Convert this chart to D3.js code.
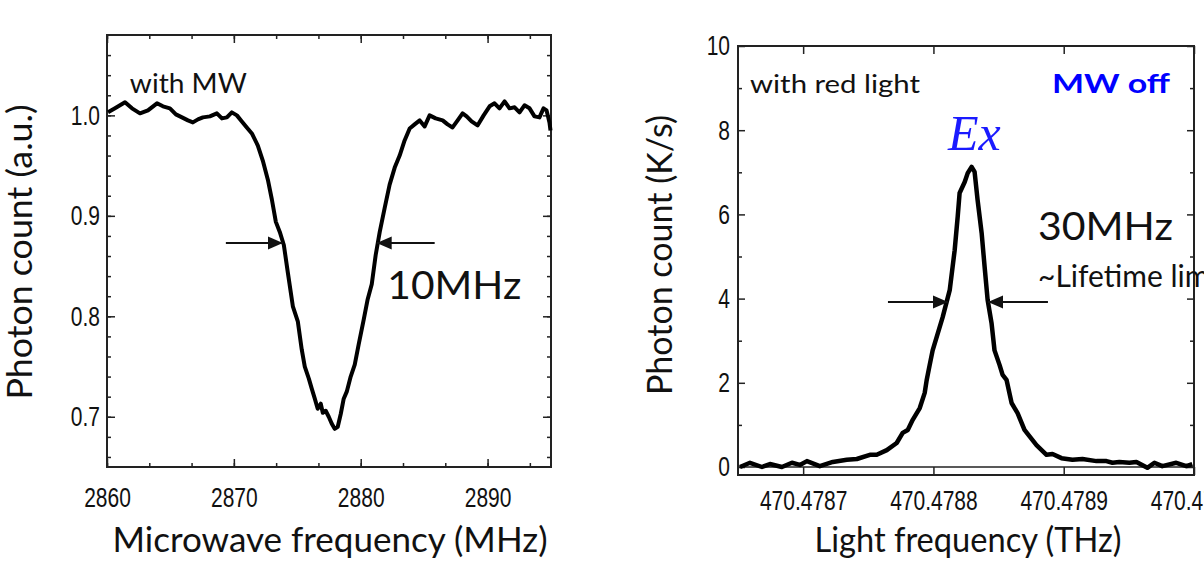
<!DOCTYPE html>
<html>
<head>
<meta charset="utf-8">
<script src="https://cdn.jsdelivr.net/npm/d3@7"></script>
<style>
body { margin: 0; background: #fff; }
svg { display: block; }
.tick text { font-family: "Liberation Sans", Arial, sans-serif; font-size: 28px; fill: #111; }
.tick line { stroke: #222; stroke-width: 1.5; }
.lbl { font-family: Lato, "Open Sans", sans-serif; fill: #111; }
</style>
</head>
<body>
<svg id="chart" width="1204" height="567"></svg>
<script>
// left panel: ODMR dip, microwave frequency (MHz) vs normalised count
var mwFreq = [2860.08, 2860.63, 2861.42, 2861.97, 2862.60, 2863.23, 2863.94, 2864.41, 2864.96, 2865.43,
  2865.91, 2866.38, 2866.77, 2867.17, 2867.56, 2868.11, 2868.66, 2869.06, 2869.45, 2869.84,
  2870.24, 2870.63, 2871.02, 2871.42, 2871.89, 2872.28, 2872.68, 2873.00, 2873.31, 2873.62,
  2873.94, 2874.25, 2874.65, 2875.04, 2875.35, 2875.59, 2875.91, 2876.14, 2876.38, 2876.61,
  2876.85, 2877.01, 2877.24, 2877.48, 2877.72, 2877.95, 2878.19, 2878.43, 2878.66, 2878.90,
  2879.21, 2879.53, 2879.84, 2880.24, 2880.55, 2880.87, 2881.18, 2881.50, 2881.89, 2882.28,
  2882.68, 2883.07, 2883.46, 2883.86, 2884.25, 2884.65, 2885.04, 2885.43, 2885.91, 2886.46,
  2886.85, 2887.24, 2887.64, 2888.03, 2888.35, 2888.74, 2889.21, 2889.69, 2890.16, 2890.55,
  2890.94, 2891.34, 2891.73, 2892.13, 2892.52, 2892.91, 2893.31, 2893.70, 2894.09, 2894.41,
  2894.65, 2894.88, 2894.96];
var mwCount = [1.003, 1.007, 1.013, 1.007, 1.002, 1.005, 1.012, 1.009, 1.007, 1.001,
  0.998, 0.995, 0.993, 0.996, 0.998, 0.999, 1.002, 0.997, 0.998, 1.003,
  1.000, 0.994, 0.988, 0.982, 0.970, 0.955, 0.936, 0.916, 0.894, 0.884,
  0.871, 0.844, 0.810, 0.795, 0.767, 0.750, 0.738, 0.728, 0.718, 0.708,
  0.713, 0.704, 0.706, 0.700, 0.693, 0.688, 0.690, 0.703, 0.718, 0.725,
  0.740, 0.752, 0.772, 0.797, 0.817, 0.832, 0.861, 0.884, 0.908, 0.931,
  0.948, 0.960, 0.975, 0.987, 0.991, 0.995, 0.989, 1.000, 0.997, 0.995,
  0.991, 0.988, 0.995, 1.002, 0.999, 0.994, 0.990, 1.000, 1.009, 1.012,
  1.007, 1.014, 1.007, 1.008, 1.003, 1.010, 1.007, 0.999, 0.998, 1.007,
  1.005, 0.993, 0.985];
var mwXTicks = [2860, 2870, 2880, 2890];
var mwYTicks = [0.7, 0.8, 0.9, 1.0];

// right panel: PLE line, light frequency (THz) vs count (K/s)
var lightFreq = [470.4786515, 470.4786592, 470.4786684, 470.4786745, 470.4786837, 470.4786914, 470.4786975,
  470.4787029, 470.4787128, 470.4787228, 470.4787335, 470.4787412, 470.4787512, 470.4787565,
  470.4787642, 470.4787718, 470.4787764, 470.4787803, 470.4787841, 470.4787895, 470.4787933,
  470.4787948, 470.4787971, 470.4787994, 470.4788071, 470.4788125, 470.4788163, 470.4788186,
  470.4788201, 470.4788240, 470.4788263, 470.4788293, 470.4788316, 470.4788339, 470.4788370,
  470.4788393, 470.4788416, 470.4788446, 470.4788469, 470.4788508, 470.4788531, 470.4788561,
  470.4788600, 470.4788646, 470.4788699, 470.4788791, 470.4788868, 470.4788914, 470.4788983,
  470.4789067, 470.4789144, 470.4789251, 470.4789328, 470.4789374, 470.4789427, 470.4789504,
  470.4789558, 470.4789642, 470.4789696, 470.4789757, 470.4789864, 470.4789941, 470.4789987];
var lightCount = [0.00, 0.10, 0.00, 0.07, 0.00, 0.10, 0.05,
  0.14, 0.02, 0.12, 0.17, 0.19, 0.29, 0.29,
  0.40, 0.57, 0.81, 0.88, 1.12, 1.40, 1.76,
  2.06, 2.42, 2.77, 3.56, 4.20, 5.15, 5.94,
  6.51, 6.77, 6.98, 7.13, 7.01, 6.34, 5.56,
  4.75, 3.97, 3.42, 2.77, 2.42, 2.19, 2.07,
  1.52, 1.28, 0.88, 0.52, 0.29, 0.31, 0.21,
  0.17, 0.19, 0.14, 0.14, 0.10, 0.12, 0.10,
  0.12, -0.02, 0.10, 0.02, 0.10, 0.02, 0.07];
var lightXTicks = [470.4787, 470.4788, 470.4789, 470.4790];
var lightYTicks = [0, 2, 4, 6, 8, 10];
var lightYMinor = [1, 3, 5, 7, 9];

var squeeze = 0.75; // tick labels use a condensed face in the original

var svg = d3.select("#chart");

svg.append("defs").append("marker")
    .attr("id", "arrowhead")
    .attr("viewBox", "0 -8 16 16")
    .attr("refX", 15)
    .attr("refY", 0)
    .attr("markerUnits", "userSpaceOnUse")
    .attr("markerWidth", 16)
    .attr("markerHeight", 16)
    .attr("orient", "auto")
    .append("path")
    .attr("d", "M0,-6.5 L15,0 L0,6.5 Z")
    .attr("fill", "#111");

function addAxis(g, axis, tx, ty) {
    var a = g.append("g")
        .attr("transform", "translate(" + tx + "," + ty + ")")
        .call(axis);
    a.select(".domain").remove();
    a.selectAll(".tick text")
        .attr("x", function () { return (+d3.select(this).attr("x") || 0) / squeeze; })
        .attr("transform", "scale(" + squeeze + ",1)");
    return a;
}

function drawArrow(g, x1, x2, y) {
    g.append("line")
        .attr("x1", x1).attr("x2", x2)
        .attr("y1", y).attr("y2", y)
        .attr("stroke", "#111")
        .attr("stroke-width", 2)
        .attr("marker-end", "url(#arrowhead)");
}

// ---------- left panel ----------
var xL = d3.scaleLinear().domain([2860, 2895]).range([107, 551]);
var yL = d3.scaleLinear().domain([0.65, 1.08]).range([467, 35]);
var gL = svg.append("g");

var mwXMinor = d3.range(0, 11).map(function (i) { return 2860 + i * 10 / 3; });
var mwYMinor = d3.range(0, 21).map(function (i) { return 0.66 + i * 0.02; });

addAxis(gL, d3.axisBottom(xL).tickValues(mwXMinor).tickSize(-4).tickFormat(""), 0, yL.range()[0]);
addAxis(gL, d3.axisBottom(xL).tickValues(mwXTicks).tickSize(-8).tickPadding(20).tickFormat(d3.format("d")), 0, yL.range()[0]);
addAxis(gL, d3.axisTop(xL).tickValues(mwXMinor).tickSize(-4).tickFormat(""), 0, yL.range()[1]);
addAxis(gL, d3.axisTop(xL).tickValues(mwXTicks).tickSize(-8).tickFormat(""), 0, yL.range()[1]);
addAxis(gL, d3.axisLeft(yL).tickValues(mwYMinor).tickSize(-4).tickFormat(""), xL.range()[0], 0);
addAxis(gL, d3.axisLeft(yL).tickValues(mwYTicks).tickSize(-8).tickPadding(7).tickFormat(d3.format(".1f")), xL.range()[0], 0);
addAxis(gL, d3.axisRight(yL).tickValues(mwYMinor).tickSize(-4).tickFormat(""), xL.range()[1], 0);
addAxis(gL, d3.axisRight(yL).tickValues(mwYTicks).tickSize(-8).tickFormat(""), xL.range()[1], 0);

gL.append("rect")
    .attr("x", xL.range()[0]).attr("y", yL.range()[1])
    .attr("width", xL.range()[1] - xL.range()[0])
    .attr("height", yL.range()[0] - yL.range()[1])
    .attr("fill", "none").attr("stroke", "#222").attr("stroke-width", 2);

gL.append("path")
    .datum(d3.zip(mwFreq, mwCount))
    .attr("fill", "none")
    .attr("stroke", "#000")
    .attr("stroke-width", 4)
    .attr("stroke-linejoin", "round")
    .attr("d", d3.line().x(function (d) { return xL(d[0]); }).y(function (d) { return yL(d[1]); }));

drawArrow(gL, xL(2869.37), xL(2873.86), yL(0.873));
drawArrow(gL, xL(2885.83), xL(2881.26), yL(0.873));

gL.append("text").attr("class", "lbl")
    .attr("x", xL(2861.8)).attr("y", yL(1.022))
    .attr("font-size", 26).attr("textLength", 117).attr("lengthAdjust", "spacingAndGlyphs")
    .text("with MW");
gL.append("text").attr("class", "lbl")
    .attr("x", xL(2882.1)).attr("y", yL(0.817))
    .attr("font-size", 39).attr("textLength", 134).attr("lengthAdjust", "spacingAndGlyphs")
    .text("10MHz");

gL.append("text").attr("class", "lbl")
    .attr("x", 330).attr("y", 552)
    .attr("text-anchor", "middle")
    .attr("font-size", 35).attr("textLength", 435).attr("lengthAdjust", "spacingAndGlyphs")
    .text("Microwave frequency (MHz)");
gL.append("text").attr("class", "lbl")
    .attr("transform", "translate(32,252) rotate(-90)")
    .attr("text-anchor", "middle")
    .attr("font-size", 35).attr("textLength", 295).attr("lengthAdjust", "spacingAndGlyphs")
    .text("Photon count (a.u.)");

// ---------- right panel ----------
var xR = d3.scaleLinear().domain([470.47865, 470.47900]).range([738, 1194]);
var yR = d3.scaleLinear().domain([-0.19, 10]).range([475, 46]);
var gR = svg.append("g");

addAxis(gR, d3.axisBottom(xR).tickValues(lightXTicks).tickSize(-(yR.range()[0] - yR(0))).tickPadding(15).tickFormat(d3.format(".4f")), 0, yR.range()[0]);
addAxis(gR, d3.axisTop(xR).tickValues(lightXTicks).tickSize(-8).tickFormat(""), 0, yR.range()[1]);
addAxis(gR, d3.axisLeft(yR).tickValues(lightYMinor).tickSize(-4).tickFormat(""), xR.range()[0], 0);
addAxis(gR, d3.axisLeft(yR).tickValues(lightYTicks).tickSize(-7).tickPadding(8).tickFormat(d3.format("d")), xR.range()[0], 0);
addAxis(gR, d3.axisRight(yR).tickValues(lightYMinor).tickSize(-4).tickFormat(""), xR.range()[1], 0);
addAxis(gR, d3.axisRight(yR).tickValues(lightYTicks).tickSize(-7).tickFormat(""), xR.range()[1], 0);

gR.append("line")
    .attr("x1", xR.range()[0]).attr("x2", xR.range()[1])
    .attr("y1", yR(0)).attr("y2", yR(0))
    .attr("stroke", "#222").attr("stroke-width", 1.5);

gR.append("rect")
    .attr("x", xR.range()[0]).attr("y", yR.range()[1])
    .attr("width", xR.range()[1] - xR.range()[0])
    .attr("height", yR.range()[0] - yR.range()[1])
    .attr("fill", "none").attr("stroke", "#222").attr("stroke-width", 2);

gR.append("path")
    .datum(d3.zip(lightFreq, lightCount))
    .attr("fill", "none")
    .attr("stroke", "#000")
    .attr("stroke-width", 4.5)
    .attr("stroke-linejoin", "round")
    .attr("d", d3.line().x(function (d) { return xR(d[0]); }).y(function (d) { return yR(d[1]); }));

drawArrow(gR, xR(470.4787651), xR(470.4788112), yR(3.92));
drawArrow(gR, xR(470.4788879), xR(470.4788419), yR(3.92));

gR.append("text").attr("class", "lbl")
    .attr("x", 750).attr("y", 93)
    .attr("font-size", 25).attr("textLength", 170).attr("lengthAdjust", "spacingAndGlyphs")
    .text("with red light");
gR.append("text").attr("class", "lbl")
    .attr("x", 1052).attr("y", 93)
    .attr("font-size", 27).attr("font-weight", "bold")
    .attr("textLength", 118).attr("lengthAdjust", "spacingAndGlyphs")
    .style("fill", "#0000ff")
    .text("MW off");
gR.append("text")
    .attr("x", 948).attr("y", 150)
    .attr("font-family", "'Liberation Serif', 'DejaVu Serif', serif")
    .attr("font-style", "italic")
    .attr("font-size", 50)
    .attr("fill", "#1a1aff")
    .text("Ex");
gR.append("text").attr("class", "lbl")
    .attr("x", 1038).attr("y", 240)
    .attr("font-size", 39).attr("textLength", 135).attr("lengthAdjust", "spacingAndGlyphs")
    .text("30MHz");
gR.append("text").attr("class", "lbl")
    .attr("x", 1038).attr("y", 287)
    .attr("font-size", 30)
    .text("~Lifetime limited");

gR.append("text").attr("class", "lbl")
    .attr("x", 968).attr("y", 552)
    .attr("text-anchor", "middle")
    .attr("font-size", 35).attr("textLength", 307).attr("lengthAdjust", "spacingAndGlyphs")
    .text("Light frequency (THz)");
gR.append("text").attr("class", "lbl")
    .attr("transform", "translate(672,255) rotate(-90)")
    .attr("text-anchor", "middle")
    .attr("font-size", 35).attr("textLength", 280).attr("lengthAdjust", "spacingAndGlyphs")
    .text("Photon count (K/s)");
</script>
</body>
</html>
